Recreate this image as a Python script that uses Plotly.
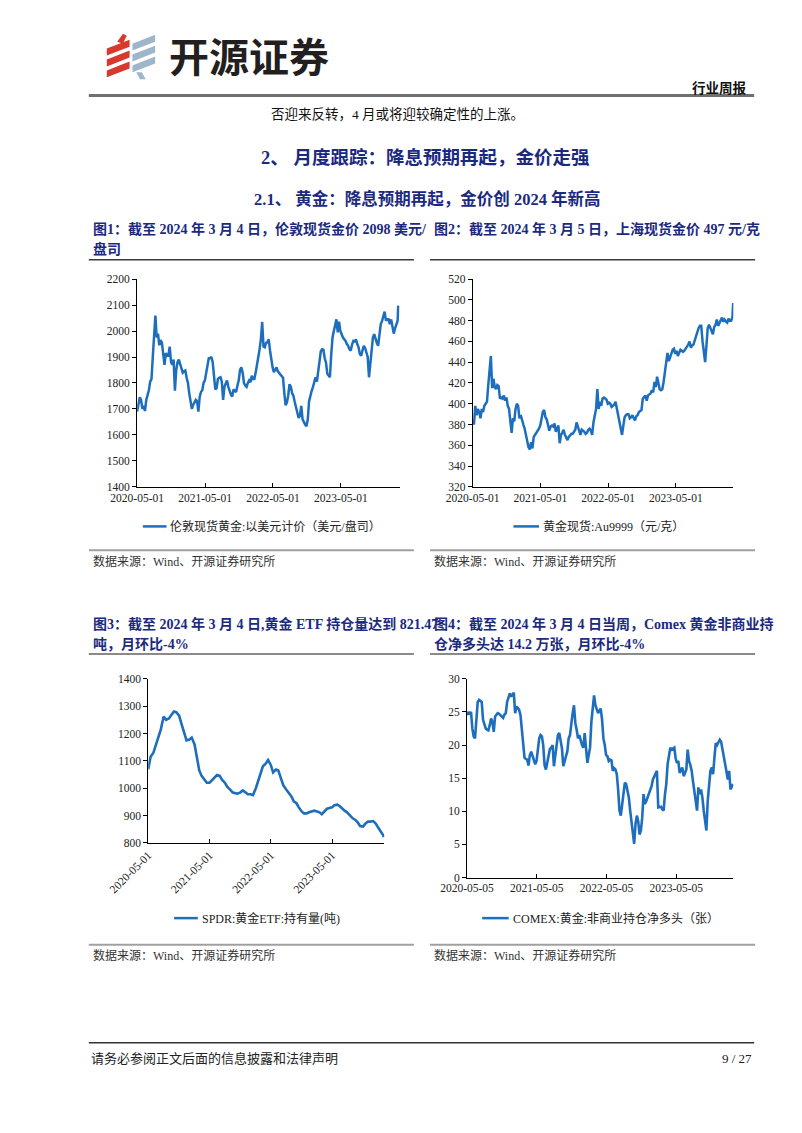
import pandas as pd
import plotly.graph_objects as go

# page is 802x1133; the HTML body adds an 8px margin, so the figure is placed at (8, 8)
PAGE_W, PAGE_H = 802, 1133
OFF = 8
FW, FH = PAGE_W - 2 * OFF, PAGE_H - 2 * OFF - 6

# ---------------- data ----------------
# Fig1: London spot gold, USD/oz (weekly readings) + last print
lbma_start = "2020-05-01"
lbma_weekly = [
    1690, 1715, 1745, 1735, 1700, 1712, 1692, 1735, 1755, 1772,
    1805, 1815, 1900, 1980, 2060, 1975, 1990, 1945, 1965, 1955,
    1900, 1870, 1915, 1905, 1905, 1940, 1880, 1870, 1890, 1770,
    1850, 1880, 1890, 1870, 1860, 1840, 1845, 1848, 1820, 1800,
    1760, 1730, 1700, 1715, 1728, 1735, 1730, 1690, 1745, 1765,
    1772, 1800, 1810, 1840, 1870, 1895, 1895, 1900, 1880, 1810,
    1775, 1780, 1816, 1820, 1822, 1805, 1735, 1785, 1800, 1810,
    1785, 1765, 1755, 1748, 1775, 1770, 1765, 1790, 1810, 1850,
    1860, 1840, 1800, 1790, 1785, 1800, 1810, 1803, 1828, 1815,
    1816, 1840, 1865, 1900, 1930, 1968, 2035, 1940, 1937, 1955,
    1956, 1968, 1925, 1880, 1860, 1842, 1850, 1860, 1845, 1838,
    1830, 1825, 1820, 1760, 1714, 1725, 1752, 1795, 1785, 1760,
    1750, 1727, 1705, 1690, 1665, 1675, 1712, 1660, 1648, 1640,
    1633, 1660, 1730, 1755, 1770, 1785, 1803, 1822, 1805, 1840,
    1880, 1922, 1930, 1928, 1895, 1878, 1835, 1828, 1822, 1910,
    1975, 2000, 2026, 2045, 1995, 2036, 2000, 1985, 1975, 1968,
    1962, 1950, 1943, 1930, 1925, 1948, 1962, 1960, 1968, 1950,
    1937, 1912, 1905, 1925, 1943, 1935, 1918, 1900, 1822, 1865,
    1930, 1975, 1988, 1968, 1955, 1943, 1994, 2026, 2038, 2057,
    2075, 2040, 2045, 2045, 2026, 2045, 2019, 1990, 2010, 2026,
    2040,
]
lbma_last_date = "2024-03-04"
lbma_last = 2098

# Fig2: Shanghai Au9999, CNY/g (weekly readings) + last print
au_start = "2020-05-01"
au_weekly = [
    383, 380, 398, 389, 395, 392, 386, 395, 392, 398,
    400, 402, 418, 430, 446, 415, 424, 416, 414, 418,
    417, 405, 406, 405, 408, 403, 406, 398, 395, 383,
    372, 386, 383, 395, 400, 398, 386, 389, 383, 380,
    376, 370, 363, 358, 356, 363, 357, 368, 370, 372,
    373, 376, 379, 386, 392, 394, 387, 385, 379, 374,
    378, 379, 378, 381, 373, 376, 379, 362, 370, 372,
    375, 370, 368, 365, 368, 370, 371, 371, 373, 375,
    382, 378, 374, 370, 375, 374, 373, 371, 372, 375,
    376, 374, 370, 382, 388, 395, 414, 395, 402, 398,
    405, 406, 405, 404, 400, 401, 400, 397, 398, 399,
    402, 395, 391, 383, 376, 370, 379, 387, 389, 390,
    390, 386, 387, 389, 386, 384, 388, 389, 392, 393,
    394, 405, 407, 408, 403, 408, 409, 410, 413, 411,
    421, 416, 426, 420, 414, 413, 414, 421, 430, 440,
    449, 441, 445, 448, 452, 453, 448, 451, 446, 449,
    452, 451, 450, 451, 453, 454, 457, 460, 454, 456,
    457, 461, 466, 469, 473, 475, 475, 460, 448, 440,
    456, 473, 476, 472, 470, 467, 474, 476, 481, 475,
    478, 481, 483, 479, 481, 479, 478, 482, 480, 480,
    483,
]
au_last_date = "2024-03-05"
au_last = 497

# Fig3: SPDR gold ETF holdings, tonnes (1st / 15th of month) + last print
spdr_start = "2020-05-01"
spdr_end = "2024-03-01"
spdr_semimonthly = [
    1069, 1115, 1130, 1155, 1185, 1215, 1262, 1250, 1255, 1268, 1280, 1278, 1265, 1235, 1205, 1175,
    1178, 1185, 1160, 1115, 1065, 1045, 1030, 1020, 1020, 1030, 1042, 1048,
    1045, 1030, 1020, 1005, 995, 985, 982, 980, 985, 992, 985, 978,
    978, 975, 1000, 1025, 1055, 1080, 1090, 1103, 1085, 1058, 1068, 1065,
    1035, 1010, 995, 985, 970, 952, 945, 930, 915, 908, 908, 912,
    915, 918, 915, 912, 905, 915, 925, 928, 930, 938, 940, 935,
    925, 918, 910, 900, 890, 885, 875, 862, 860, 870, 878, 878,
    880, 872, 858, 842, 828,
]
spdr_last_date = "2024-03-04"
spdr_last = 821.47

# Fig4: COMEX gold non-commercial net long, 10k contracts (weekly)
comex_start = "2020-05-05"
comex_weekly = [
    24.5, 25.0, 24.6, 25.0, 22.5, 21.3, 21.0, 23.5, 26.5, 26.8,
    26.6, 26.5, 23.8, 23.2, 22.5, 22.3, 22.2, 23.0, 24.0, 23.5,
    22.0, 24.3, 24.6, 24.8, 24.7, 24.5, 24.3, 24.1, 24.6, 24.8,
    26.5, 27.0, 27.8, 27.3, 27.6, 27.9, 24.8, 25.8, 25.6, 25.3,
    24.5, 22.0, 19.5, 18.1, 17.9, 17.8, 16.9, 18.5, 19.0, 18.3,
    17.5, 17.1, 17.6, 19.6, 21.0, 21.5, 21.3, 20.0, 17.0, 16.3,
    17.5, 18.8, 19.4, 19.6, 20.0, 16.8, 18.6, 20.5, 21.5, 21.8,
    20.8, 19.5, 16.8, 17.8, 18.3, 19.0, 21.0, 21.5, 23.5, 24.8,
    26.0, 23.3, 22.3, 21.0, 21.5, 20.5, 20.0, 19.6, 21.8, 19.5,
    17.3, 18.5, 19.6, 23.5, 25.5, 27.5, 26.0, 25.5, 24.8, 25.2,
    25.5, 23.8, 21.0, 20.0, 18.5, 18.3, 17.6, 17.8, 17.7, 16.1,
    16.5, 16.3, 15.6, 13.3, 10.1, 9.35, 11.1, 13.5, 14.3, 14.1,
    13.0, 12.1, 10.1, 8.5, 7.0, 5.1, 8.1, 9.35, 8.5, 6.5,
    7.1, 9.0, 12.6, 11.1, 11.5, 12.1, 12.6, 13.1, 13.8, 14.8,
    15.2, 15.6, 16.1, 10.6, 10.7, 10.7, 10.3, 10.1, 12.5, 14.1,
    17.1, 18.5, 19.6, 19.3, 19.5, 19.6, 18.0, 17.3, 17.6, 15.8,
    16.2, 16.6, 15.3, 16.0, 16.3, 19.3, 17.6, 17.0, 16.1, 14.5,
    13.1, 11.0, 10.1, 13.6, 12.6, 13.3, 12.1, 10.1, 8.5, 7.1,
    11.6, 14.5, 16.1, 16.6, 15.6, 18.1, 20.3, 20.0, 20.5, 20.8,
    20.5, 19.5, 18.1, 17.1, 16.0, 14.8, 16.1, 13.3, 13.8, 14.1,
]

ticks_a = ["2020-05-01", "2021-05-01", "2022-05-01", "2023-05-01"]
ticks_b = ["2020-05-05", "2021-05-05", "2022-05-05", "2023-05-05"]

legend1 = "伦敦现货黄金:以美元计价（美元/盘司）"
legend2 = "黄金现货:Au9999（元/克）"
legend3 = "SPDR:黄金ETF:持有量(吨)"
legend4 = "COMEX:黄金:非商业持仓净多头（张）"

# ---------------- helpers (page pixel -> paper) ----------------
def px(x):
    return (x - OFF) / FW

def py(y):
    return 1 - (y - OFF) / FH

BLUE = "#1E6EBE"
NAVY = "#1B2A7E"
SERIF = "Liberation Serif, Noto Sans CJK SC"
CJK = "Noto Sans CJK SC"

def weekly(start, vals):
    return list(pd.date_range(start, periods=len(vals), freq="7D"))

x1 = weekly(lbma_start, lbma_weekly) + [pd.Timestamp(lbma_last_date)]
y1 = lbma_weekly + [lbma_last]
x2 = weekly(au_start, au_weekly) + [pd.Timestamp(au_last_date)]
y2 = au_weekly + [au_last]
sd = []
for d in pd.date_range(spdr_start, spdr_end, freq="MS"):
    sd.append(d)
    sd.append(d + pd.Timedelta(days=14))
sd = sd[:len(spdr_semimonthly)]
x3 = sd + [pd.Timestamp(spdr_last_date)]
y3 = spdr_semimonthly[:len(sd)] + [spdr_last]
x4 = weekly(comex_start, comex_weekly)
y4 = comex_weekly

fig = go.Figure()
fig.add_trace(go.Scatter(x=x1, y=y1, mode="lines", line=dict(color=BLUE, width=2.5),
                         xaxis="x", yaxis="y", hoverinfo="skip", showlegend=False))
fig.add_trace(go.Scatter(x=x2, y=y2, mode="lines", line=dict(color=BLUE, width=2.5),
                         xaxis="x2", yaxis="y2", hoverinfo="skip", showlegend=False))
fig.add_trace(go.Scatter(x=x3, y=y3, mode="lines", line=dict(color=BLUE, width=2.6),
                         xaxis="x3", yaxis="y3", hoverinfo="skip", showlegend=False))
fig.add_trace(go.Scatter(x=x4, y=y4, mode="lines", line=dict(color=BLUE, width=2.6),
                         xaxis="x4", yaxis="y4", hoverinfo="skip", showlegend=False))

tickfont = dict(family="Liberation Serif", size=11.5, color="#222")

def xax(left, right, rng, tickvals, anchor, angle=0):
    return dict(domain=[px(left), px(right)], anchor=anchor, type="date",
                range=rng, tickvals=tickvals, ticktext=tickvals, tickangle=angle,
                showgrid=False, zeroline=False, showline=True, linecolor="#000",
                linewidth=1, ticks="inside", ticklen=4, tickcolor="#000",
                tickfont=tickfont)

def yax(top, bottom, rng, dtick, anchor):
    return dict(domain=[py(bottom), py(top)], anchor=anchor, range=rng, dtick=dtick,
                tick0=rng[0], showgrid=False, zeroline=False, showline=True,
                linecolor="#000", linewidth=1, ticks="outside", ticklen=4,
                tickcolor="#000", tickfont=tickfont)

fig.update_layout(
    width=FW, height=FH, margin=dict(l=0, r=0, t=0, b=0), autosize=False,
    paper_bgcolor="white", plot_bgcolor="white", showlegend=False,
    xaxis=xax(101, 378, ["2020-05-01", "2024-03-12"], ticks_a, "y"),
    yaxis=yax(276, 486, [1400, 2200], 100, "x"),
    xaxis2=xax(455, 730, ["2020-05-01", "2024-03-06"], ticks_a, "y2"),
    yaxis2=yax(276, 486, [320, 520], 20, "x2"),
    xaxis3=xax(112.7, 361.7, ["2020-05-01", "2024-03-07"], ticks_a, "y3", angle=-45),
    yaxis3=yax(680, 846, [800, 1400], 100, "x3"),
    xaxis4=xax(449, 730, ["2020-05-05", "2024-02-28"], ticks_b, "y4"),
    yaxis4=yax(680, 881, [0, 30], 5, "x4"),
)

ann = []
shp = []

def text(x, y, s, size, color="#000", family=CJK, anchor="left", bold=False):
    if bold:
        s = "<b>" + s + "</b>"
    ann.append(dict(x=px(x), y=py(y), xref="paper", yref="paper", text=s,
                    showarrow=False, xanchor=anchor, yanchor="middle",
                    font=dict(size=size, color=color, family=family)))

def hline(x0, x1_, y, color, width):
    shp.append(dict(type="line", xref="paper", yref="paper", x0=px(x0), x1=px(x1_),
                    y0=py(y), y1=py(y), line=dict(color=color, width=width)))

def poly(points, color):
    d = "M " + " L ".join(f"{px(a):.5f},{py(b):.5f}" for a, b in points) + " Z"
    shp.append(dict(type="path", xref="paper", yref="paper", path=d,
                    fillcolor=color, line=dict(width=0)))

# ---- header / logo ----
RED = "#D8392C"
LB = "#9DB6C9"
for yb in (50, 61, 72):
    poly([(69, yb), (93, yb - 9), (93, yb - 16), (69, yb - 7)], RED)
poly([(80, 36), (86, 28), (90, 30), (86, 38)], RED)
for yb in (45, 56, 67):
    poly([(96, yb), (120, yb - 9), (120, yb - 16), (96, yb - 7)], LB)
poly([(100, 67), (106, 67), (110, 74), (104, 74)], LB)

text(133, 49, "开源证券", 40, "#231F20", CJK, bold=True)
text(746, 82, "行业周报", 13.5, "#111", CJK, anchor="right", bold=True)
hline(50, 752, 90.5, "#707070", 3)

text(240, 110, "否迎来反转，4 月或将迎较确定性的上涨。", 13.5, "#111", SERIF)
text(405, 153, "2、 月度跟踪：降息预期再起，金价走强", 18.5, NAVY, SERIF, anchor="center", bold=True)
text(407, 195, "2.1、 黄金：降息预期再起，金价创 2024 年新高", 16.5, NAVY, SERIF, anchor="center", bold=True)

# ---- figure titles ----
text(52, 225, "图1：截至 2024 年 3 月 4 日，伦敦现货金价 2098 美元/", 14, NAVY, SERIF, bold=True)
text(52, 246, "盘司", 14, NAVY, SERIF, bold=True)
text(412, 225, "图2：截至 2024 年 3 月 5 日，上海现货金价 497 元/克", 14, NAVY, SERIF, bold=True)
hline(50, 393, 256.5, "#3A3A3A", 1.5)
hline(410, 753, 256.5, "#3A3A3A", 1.5)

text(52, 625, "图3：截至 2024 年 3 月 4 日,黄金 ETF 持仓量达到 821.47", 14, NAVY, SERIF, bold=True)
text(52, 645, "吨，月环比-4%", 14, NAVY, SERIF, bold=True)
text(412, 625, "图4：截至 2024 年 3 月 4 日当周，Comex 黄金非商业持", 14, NAVY, SERIF, bold=True)
text(412, 645, "仓净多头达 14.2 万张，月环比-4%", 14, NAVY, SERIF, bold=True)
hline(50, 393, 655, "#8A8A8A", 2)
hline(410, 753, 655, "#8A8A8A", 2)

# ---- legends ----
def legend(x0, x1_, y, label):
    hline(x0, x1_, y, BLUE, 2.5)
    text(x1_ + 2, y, label, 12, "#222", SERIF)

legend(107, 132, 526, legend1)
legend(498, 525, 526, legend2)
legend(140, 165, 922, legend3)
legend(465, 493, 922, legend4)

# ---- sources ----
src = "数据来源：Wind、开源证券研究所"
hline(50, 393, 550, "#A0A0A0", 2)
hline(410, 753, 550, "#A0A0A0", 2)
text(52, 561, src, 12, "#333", SERIF)
text(412, 561, src, 12, "#333", SERIF)
hline(50, 393, 949, "#A0A0A0", 2)
hline(410, 753, 949, "#A0A0A0", 2)
text(52, 960, src, 12, "#333", SERIF)
text(412, 960, src, 12, "#333", SERIF)

# ---- footer ----
hline(50, 752, 1048, "#333", 1.5)
text(50, 1064, "请务必参阅正文后面的信息披露和法律声明", 13, "#222", SERIF)
text(752, 1064, "9 / 27", 13, "#222", SERIF, anchor="right")

fig.update_layout(annotations=ann, shapes=shp)
fig.write_html("out.html", config={"displayModeBar": False})
